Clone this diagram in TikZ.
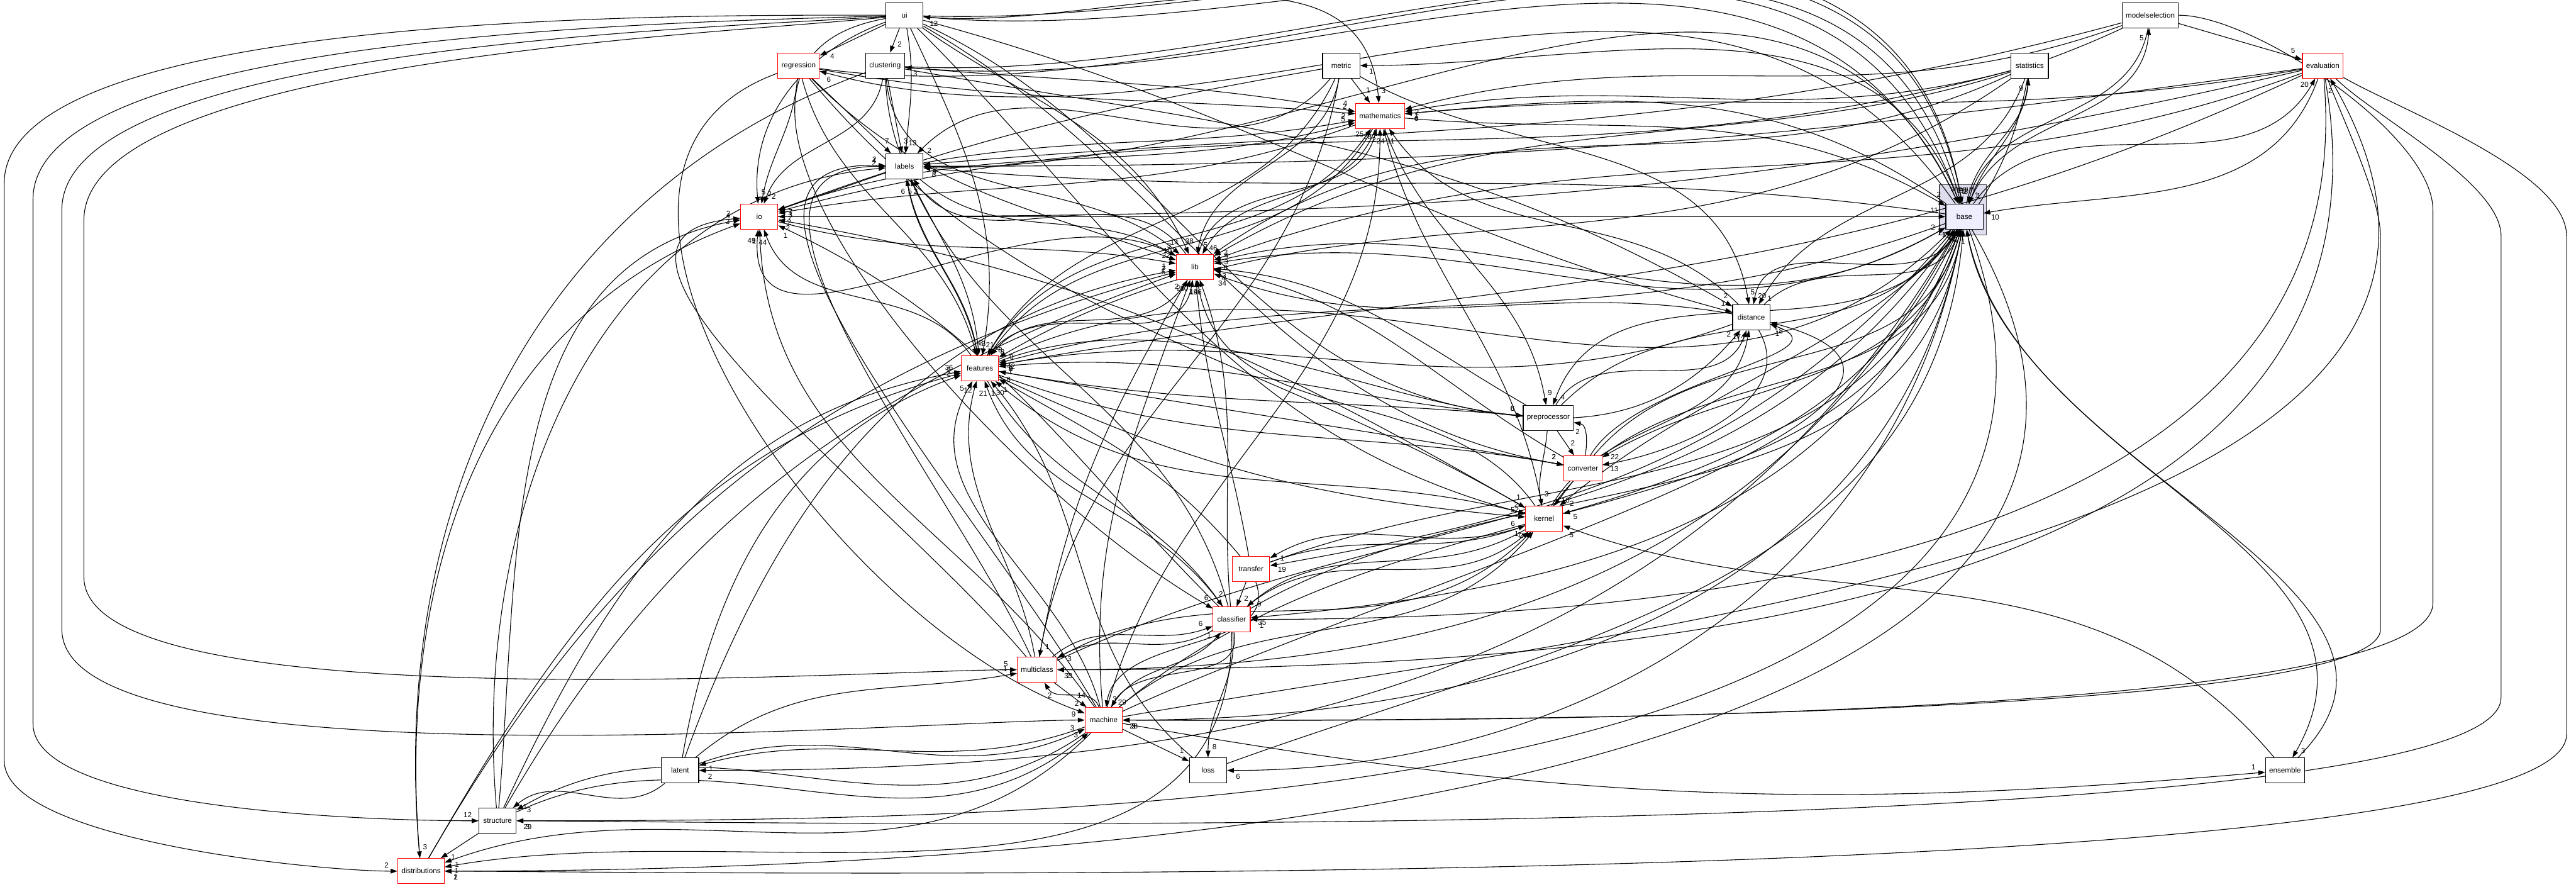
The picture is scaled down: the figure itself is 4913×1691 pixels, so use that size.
\documentclass[tikz,border=0pt]{standalone}
\usepackage{fontspec}
\setmainfont{Liberation Sans}
\usetikzlibrary{arrows.meta,backgrounds,decorations.markings}
\definecolor{DirRed}{HTML}{FF0000}
\definecolor{BaseFill}{HTML}{EEEEFF}
\definecolor{ClusterFill}{HTML}{DDDDEE}
\newcommand{\dirfont}{\fontsize{2.8}{3.2}\selectfont}
\pgfdeclarelayer{front}
\pgfsetlayers{background,main,front}

\begin{document}
\begin{tikzpicture}[x=0.2pt,y=-0.2pt,
  every node/.style={font=\dirfont},
  dir/.style={draw=black,fill=white,line width=0.28pt,minimum width=14.2pt,minimum height=9.6pt,inner xsep=1.4pt,inner ysep=0.6pt},
  rdir/.style={dir,draw=DirRed},
  dep/.style={-{Triangle[length=2.6pt,width=1.8pt]},line width=0.26pt},
  hl/.style={postaction={decorate},decoration={markings,
    mark=at position -4.2pt with {\node[inner sep=0pt] at (0pt,2.3pt) {#1};}}}
]
\useasboundingbox (0,0) rectangle (4913,1691);
% directories, one rank every 96 units
\begin{pgfonlayer}{front}
\node[dir] (ui) at (1725,29) {ui};
\node[dir] (modelselection) at (4101,29) {modelselection};
\node[rdir] (regression) at (1523,125) {regression};
\node[dir] (clustering) at (1688,125) {clustering};
\node[dir] (metric) at (2558,125) {metric};
\node[dir] (statistics) at (3871,125) {statistics};
\node[rdir] (evaluation) at (4430,125) {evaluation};
\node[rdir] (mathematics) at (2632,221) {mathematics};
\node[dir] (labels) at (1725,317) {labels};
\node[rdir] (io) at (1448,413) {io};
\node[rdir] (lib) at (2279,509) {lib};
\node[dir] (distance) at (3340,605) {distance};
\node[rdir] (features) at (1869,702) {features};
\node[dir] (preprocessor) at (2953,797) {preprocessor};
\node[rdir] (converter) at (3019,893) {converter};
\node[rdir] (kernel) at (2945,989) {kernel};
\node[rdir] (transfer) at (2386,1085) {transfer};
\node[rdir] (classifier) at (2349,1181) {classifier};
\node[rdir] (multiclass) at (1978,1277) {multiclass};
\node[rdir] (machine) at (2105,1373) {machine};
\node[dir] (latent) at (1297,1469) {latent};
\node[dir] (loss) at (2304,1469) {loss};
\node[dir] (ensemble) at (4358,1469) {ensemble};
\node[dir] (structure) at (949,1565) {structure};
\node[rdir] (distributions) at (803,1661) {distributions};
\node[dir,fill=BaseFill] (base) at (3746.5,413) {base};
\end{pgfonlayer}
\begin{scope}[on background layer]
\node[draw=black!70,fill=ClusterFill,line width=0.28pt,minimum width=17.8pt,minimum height=19.2pt] (shogun) at (3743.5,400) {};
\node[anchor=north,inner sep=0.6pt] (shoguntitle) at (shogun.north) {shogun};
\end{scope}
% lanes round the sides
\coordinate (laneAtop) at (8,350);     \coordinate (laneAbot) at (8,1450);
\coordinate (laneBtop) at (63,380);    \coordinate (laneBbot) at (63,1380);
\coordinate (laneCtop) at (118,400);   \coordinate (laneCbot) at (118,1200);
\coordinate (laneDtop) at (160,420);   \coordinate (laneDbot) at (160,1100);
\coordinate (laneEtop) at (4640,400);  \coordinate (laneEbot) at (4640,1150);
\coordinate (laneFtop) at (4895,450);  \coordinate (laneFbot) at (4895,1400);
\coordinate (laneGtop) at (4770,450);  \coordinate (laneGbot) at (4770,1330);
\coordinate (laneHtop) at (4540,450);  \coordinate (laneHbot) at (4540,1200);

% ui
\draw[dep,hl=4] (ui) -- (regression);
\draw[dep,hl=2] (ui) -- (clustering);
\draw[dep,hl=13] (ui) to[out=-80,in=85] (labels);
\draw[dep,hl=5] (ui) to[out=200,in=95] (io);
\draw[dep,hl=3] (ui) to[out=-5,in=95] (mathematics);
\draw[dep,hl=38] (ui) to[out=-35,in=115] (lib);
\draw[dep,hl=21] (ui) to[out=-65,in=80] (features);
\draw[dep,hl=1] (ui) to[out=-15,in=165] (distance);
\draw[dep,hl=6] (ui) to[out=-25,in=175] (preprocessor);
\draw[dep,hl=2] (ui) to[out=-30,in=170] (converter);
\draw[dep,hl=2] (ui) to[out=-45,in=165] (kernel);
\draw[dep,hl=3] (ui) to[out=-2,in=100] (base);
\draw[dep,hl=6] (ui) to[out=190,in=150] (classifier);
\draw[dep,hl=2] (ui) to[out=180,in=90,looseness=.5] (laneAtop) -- (laneAbot) to[out=-90,in=180,looseness=.5] (distributions);
\draw[dep,hl=12] (ui) to[out=182,in=90,looseness=.5] (laneBtop) -- (laneBbot) to[out=-90,in=180,looseness=.5] (structure);
\draw[dep,hl=9] (ui) to[out=184,in=90,looseness=.5] (laneCtop) -- (laneCbot) to[out=-90,in=180,looseness=.4] (machine);
\draw[dep,hl=5] (ui) to[out=186,in=90,looseness=.5] (laneDtop) -- (laneDbot) to[out=-90,in=180,looseness=.4] (multiclass);
\draw[dep,hl=12] (base) to[out=100,in=-5] (ui);
% regression
\draw[dep,hl=7] (regression) -- (labels);
\draw[dep,hl=2] (regression) to[out=-95,in=80] (io);
\draw[dep,hl=2] (regression) to[out=-10,in=175] (mathematics);
\draw[dep,hl=4] (regression) to[out=-75,in=105] (features);
\draw[dep,hl=10] (regression) to[out=-45,in=160] (lib);
\draw[dep,hl=1] (regression) to[out=-50,in=150] (kernel);
\draw[dep,hl=5] (regression) to[out=-8,in=110] (base);
\draw[dep,hl=2] (regression) to[out=200,in=160] (machine);
\draw[dep,hl=6] (base) to[out=125,in=-15] (regression);
% clustering
\draw[dep,hl=3] (clustering) -- (labels);
\draw[dep,hl=2] (clustering) to[out=-100,in=70] (io);
\draw[dep,hl=4] (clustering) to[out=-5,in=170] (mathematics);
\draw[dep,hl=14] (clustering) to[out=-85,in=140] (lib);
\draw[dep,hl=3] (clustering) to[out=-88,in=95] (features);
\draw[dep,hl=2] (clustering) to[out=-10,in=150] (distance);
\draw[dep,hl=5] (clustering) to[out=-3,in=105] (base);
\draw[dep,hl=3] (clustering) to[out=200,in=95] (distributions);
\draw[dep,hl=3] (base) to[out=115,in=-5] (clustering);
% metric
\draw[dep,hl=1] (metric) -- (mathematics);
\draw[dep,hl=2] (metric) to[out=-130,in=45] (labels);
\draw[dep,hl=5] (metric) to[out=-100,in=80] (lib);
\draw[dep,hl=4] (metric) to[out=-115,in=60] (features);
\draw[dep,hl=7] (metric) to[out=190,in=20] (io);
\draw[dep,hl=5] (metric) to[out=-30,in=100] (distance);
\draw[dep,hl=1] (metric) to[out=-100,in=80] (multiclass);
\draw[dep,hl=1] (base) to[out=110,in=0] (metric);
% statistics
\draw[dep,hl=9] (base) to[out=80,in=-95] (statistics);
\draw[dep,hl=1] (statistics) to[out=195,in=10] (mathematics);
\draw[dep,hl=2] (statistics) to[out=205,in=35] (lib);
\draw[dep,hl=3] (statistics) to[out=195,in=15] (io);
\draw[dep,hl=9] (statistics) to[out=215,in=30] (features);
\draw[dep,hl=2] (statistics) to[out=-100,in=40] (kernel);
\draw[dep,hl=1] (statistics) to[out=-95,in=70] (base);
\draw[dep,hl=1] (statistics) to[out=-110,in=60] (distance);
% modelselection
\draw[dep,hl=5] (modelselection) -- (evaluation);
\draw[dep,hl=5] (base) to[out=70,in=-95] (modelselection);
\draw[dep,hl=2] (modelselection) to[out=200,in=15] (mathematics);
\draw[dep,hl=4] (modelselection) to[out=205,in=30] (lib);
\draw[dep,hl=2] (modelselection) to[out=195,in=5] (labels);
\draw[dep,hl=1] (modelselection) to[out=-100,in=75] (base);
\draw[dep,hl=3] (modelselection) to[out=0,in=90,looseness=.6] (laneEtop) -- (laneEbot) to[out=-90,in=0,looseness=.25] (machine);
% evaluation
\draw[dep,hl=20] (base) to[out=55,in=-120] (evaluation);
\draw[dep,hl=6] (evaluation) to[out=190,in=5] (mathematics);
\draw[dep,hl=9] (evaluation) to[out=188,in=0] (labels);
\draw[dep,hl=3] (evaluation) to[out=200,in=20] (lib);
\draw[dep,hl=2] (evaluation) to[out=193,in=0] (io);
\draw[dep,hl=8] (evaluation) to[out=205,in=10] (features);
\draw[dep,hl=10] (evaluation) to[out=-110,in=10] (base);
\draw[dep,hl=1] (evaluation) to[out=-30,in=90,looseness=.6] (laneFtop) -- (laneFbot) to[out=-90,in=0,looseness=.2] (distributions);
\draw[dep,hl=3] (evaluation) to[out=-45,in=90,looseness=.6] (laneGtop) -- (laneGbot) to[out=-90,in=0,looseness=.2] (structure);
\draw[dep,hl=2] (evaluation) to[out=-70,in=90,looseness=.6] (laneHtop) -- (laneHbot) to[out=-90,in=0,looseness=.2] (machine);
\draw[dep,hl=2] (evaluation) to[out=-80,in=0] (multiclass);
\draw[dep,hl=1] (evaluation) to[out=-85,in=0] (classifier);
\draw[dep,hl=2] (machine) to[out=10,in=-60] (evaluation);
% mathematics
\draw[dep,hl=28] (lib) to[out=75,in=-105] (mathematics);
\draw[dep,hl=25] (features) to[out=60,in=-125] (mathematics);
\draw[dep,hl=11] (distance) to[out=135,in=-55] (mathematics);
\draw[dep,hl=24] (kernel) to[out=100,in=-75] (mathematics);
\draw[dep,hl=2] (labels) to[out=10,in=190] (mathematics);
\draw[dep,hl=5] (io) to[out=20,in=195] (mathematics);
\draw[dep,hl=2] (machine) to[out=75,in=-90] (mathematics);
\draw[dep,hl=46] (mathematics) to[out=-110,in=60] (lib);
\draw[dep,hl=7] (mathematics) to[out=200,in=10] (io);
\draw[dep,hl=2] (mathematics) to[out=-5,in=150] (base);
\draw[dep,hl=8] (mathematics) to[out=-120,in=55] (features);
\draw[dep,hl=4] (base) to[out=145,in=5] (mathematics);
\draw[dep,hl=9] (mathematics) to[out=-70,in=100] (preprocessor);
% labels
\draw[dep,hl=7] (labels) -- (io);
\draw[dep,hl=3] (labels) to[out=-40,in=150] (lib);
\draw[dep,hl=3] (labels) to[out=-80,in=100] (features);
\draw[dep,hl=1] (labels) to[out=-2,in=115] (base);
\draw[dep,hl=6] (features) to[out=100,in=-80] (labels);
\draw[dep,hl=2] (lib) to[out=125,in=-55] (labels);
\draw[dep,hl=8] (base) to[out=172,in=-5] (labels);
\draw[dep,hl=2] (structure) to[out=95,in=185] (labels);
\draw[dep,hl=4] (multiclass) to[out=115,in=180] (labels);
\draw[dep,hl=2] (machine) to[out=120,in=178] (labels);
\draw[dep,hl=5] (classifier) to[out=105,in=-65] (labels);
% io
\draw[dep,hl=22] (io) to[out=-15,in=170] (lib);
\draw[dep,hl=11] (io) -- (base);
\draw[dep,hl=49] (lib) to[out=150,in=-95] (io);
\draw[dep,hl=44] (features) to[out=125,in=-70] (io);
\draw[dep,hl=1] (machine) to[out=125,in=-88] (io);
\draw[dep,hl=2] (kernel) to[out=150,in=-10] (io);
\draw[dep,hl=4] (structure) to[out=85,in=190] (io);
\draw[dep,hl=3] (distributions) to[out=95,in=200] (io);
\draw[dep,hl=2] (multiclass) to[out=130,in=185] (io);
\draw[dep,hl=1] (classifier) to[out=135,in=-25] (io);
% lib
\draw[dep,hl=2] (lib) to[out=15,in=-150] (base);
\draw[dep,hl=40] (features) to[out=55,in=-100] (lib);
\draw[dep,hl=14] (kernel) to[out=125,in=-80] (lib);
\draw[dep,hl=34] (distance) to[out=170,in=-20] (lib);
\draw[dep,hl=96] (classifier) to[out=95,in=-70] (lib);
\draw[dep,hl=25] (machine) to[out=95,in=-110] (lib);
\draw[dep,hl=2] (multiclass) to[out=80,in=-120] (lib);
\draw[dep,hl=6] (base) to[out=-150,in=10] (lib);
\draw[dep,hl=4] (converter) to[out=150,in=-10] (lib);
\draw[dep,hl=3] (preprocessor) to[out=150,in=-5] (lib);
\draw[dep,hl=1] (transfer) to[out=100,in=-85] (lib);
\draw[dep,hl=5] (structure) to[out=60,in=200] (lib);
\draw[dep,hl=7] (distributions) to[out=60,in=195] (lib);
\draw[dep,hl=1] (latent) to[out=70,in=190] (lib);
\draw[dep,hl=8] (lib) to[out=-120,in=50] (features);
% distance
\draw[dep,hl=9] (distance) to[out=200,in=10] (features);
\draw[dep,hl=2] (features) to[out=20,in=-130] (distance);
\draw[dep,hl=20] (base) to[out=-115,in=80] (distance);
\draw[dep,hl=12] (kernel) to[out=60,in=-100] (distance);
\draw[dep,hl=17] (preprocessor) to[out=60,in=-110] (distance);
\draw[dep,hl=1] (converter) to[out=60,in=-20] (distance);
\draw[dep,hl=18] (machine) to[out=25,in=-15] (distance);
\draw[dep,hl=2] (distance) to[out=45,in=-110] (base);
% features
\draw[dep,hl=1] (features) to[out=25,in=-135] (base);
\draw[dep,hl=42] (base) to[out=-160,in=15] (features);
\draw[dep,hl=30] (kernel) to[out=165,in=-40] (features);
\draw[dep,hl=1] (preprocessor) to[out=175,in=5] (features);
\draw[dep,hl=8] (converter) to[out=170,in=-10] (features);
\draw[dep,hl=21] (classifier) to[out=125,in=-70] (features);
\draw[dep,hl=12] (multiclass) to[out=100,in=-105] (features);
\draw[dep,hl=5] (machine) to[out=105,in=-120] (features);
\draw[dep,hl=36] (structure) to[out=65,in=190] (features);
\draw[dep,hl=2] (latent) to[out=80,in=200] (features);
\draw[dep,hl=2] (distributions) to[out=60,in=195] (features);
\draw[dep,hl=1] (transfer) to[out=130,in=-30] (features);
\draw[dep,hl=1] (loss) to[out=140,in=-50] (features);
% preprocessor
\draw[dep,hl=4] (base) to[out=-120,in=70] (preprocessor);
\draw[dep,hl=2] (preprocessor) -- (converter);
\draw[dep,hl=3] (preprocessor) to[out=-95,in=100] (kernel);
\draw[dep,hl=1] (preprocessor) to[out=45,in=-125] (base);
\draw[dep,hl=6] (features) to[out=-10,in=175] (preprocessor);
\draw[dep,hl=2] (converter) to[out=80,in=-10] (preprocessor);
% converter
\draw[dep,hl=10] (converter) -- (kernel);
\draw[dep,hl=22] (base) to[out=-105,in=30] (converter);
\draw[dep,hl=1] (converter) to[out=50,in=-105] (base);
\draw[dep,hl=2] (features) to[out=-20,in=170] (converter);
\draw[dep,hl=13] (distance) to[out=-60,in=10] (converter);
% kernel
\draw[dep,hl=5] (base) to[out=-105,in=15] (kernel);
\draw[dep,hl=2] (kernel) to[out=55,in=-100] (base);
\draw[dep,hl=1] (kernel) to[out=200,in=30] (transfer);
\draw[dep,hl=9] (kernel) to[out=210,in=40] (classifier);
\draw[dep,hl=6] (transfer) to[out=20,in=200] (kernel);
\draw[dep,hl=1] (classifier) to[out=40,in=220] (kernel);
\draw[dep,hl=1] (multiclass) to[out=30,in=225] (kernel);
\draw[dep,hl=2] (machine) to[out=40,in=230] (kernel);
\draw[dep,hl=52] (features) to[out=-25,in=175] (kernel);
\draw[dep,hl=5] (ensemble) to[out=130,in=-20] (kernel);
% transfer
\draw[dep,hl=19] (base) to[out=-130,in=10] (transfer);
\draw[dep,hl=2] (transfer) -- (classifier);
\draw[dep,hl=3] (transfer) to[out=-70,in=80] (machine);
\draw[dep,hl=1] (transfer) to[out=20,in=-110] (base);
% classifier
\draw[dep,hl=3] (classifier) to[out=210,in=30] (multiclass);
\draw[dep,hl=6] (multiclass) to[out=40,in=200] (classifier);
\draw[dep,hl=35] (base) to[out=-110,in=5] (classifier);
\draw[dep,hl=1] (classifier) to[out=30,in=-100] (base);
\draw[dep,hl=1] (machine) to[out=60,in=230] (classifier);
\draw[dep,hl=29] (classifier) to[out=-80,in=60] (machine);
\draw[dep,hl=8] (classifier) to[out=-85,in=90] (loss);
\draw[dep,hl=1] (classifier) to[out=-90,in=10] (distributions);
\draw[dep,hl=2] (features) to[out=-60,in=125] (classifier);
% multiclass
\draw[dep,hl=33] (base) to[out=-118,in=0] (multiclass);
\draw[dep,hl=14] (multiclass) -- (machine);
\draw[dep,hl=2] (machine) to[out=110,in=-60] (multiclass);
\draw[dep,hl=1] (multiclass) to[out=25,in=-125] (base);
\draw[dep,hl=1] (latent) to[out=40,in=190] (multiclass);
% machine
\draw[dep,hl=28] (base) to[out=-100,in=0] (machine);
\draw[dep,hl=4] (machine) to[out=40,in=-115] (base);
\draw[dep,hl=1] (machine) to[out=200,in=15] (latent);
\draw[dep,hl=3] (latent) to[out=20,in=205] (machine);
\draw[dep,hl=1] (machine) -- (loss);
\draw[dep,hl=3] (machine) to[out=215,in=30] (structure);
\draw[dep,hl=3] (structure) to[out=25,in=220] (machine);
\draw[dep,hl=1] (machine) to[out=225,in=20] (distributions);
\draw[dep,hl=1] (machine) to[out=-10,in=185] (ensemble);
% latent, loss, ensemble
\draw[dep,hl=1] (latent) to[out=-140,in=40] (structure);
\draw[dep,hl=2] (base) to[out=-120,in=0] (latent);
\draw[dep,hl=6] (base) to[out=-100,in=0] (loss);
\draw[dep,hl=1] (loss) to[out=20,in=-95] (base);
\draw[dep,hl=3] (base) to[out=-80,in=60] (ensemble);
\draw[dep,hl=1] (ensemble) to[out=45,in=-80] (base);
% structure, distributions
\draw[dep,hl=1] (structure) -- (distributions);
\draw[dep,hl=29] (base) to[out=-70,in=0] (structure);
\draw[dep,hl=2] (base) to[out=-60,in=0] (distributions);
\end{tikzpicture}
\end{document}
